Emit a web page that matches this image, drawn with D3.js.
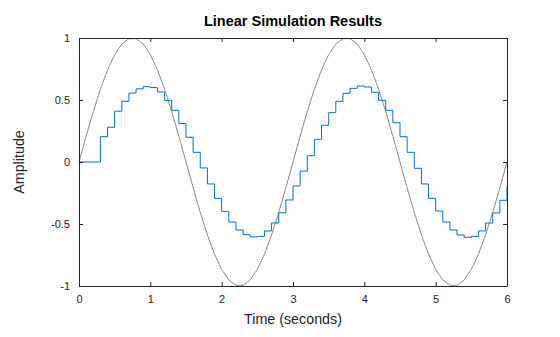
<!DOCTYPE html>
<html>
<head>
<meta charset="utf-8">
<script src="https://cdn.jsdelivr.net/npm/d3@7"></script>
<style>
  html, body { margin: 0; padding: 0; background: #ffffff; }
  svg { display: block; font-family: "Liberation Sans", Arial, Helvetica, sans-serif; }
</style>
</head>
<body>
<svg id="chart" width="560" height="337"></svg>
<script>
// ---- data ----
const timeStep = 0.1;          // sample interval (s)
const outputValues = [
  0, 0, 0, 0.204, 0.28, 0.41, 0.49, 0.556, 0.59, 0.607,
  0.60, 0.565, 0.497, 0.417, 0.31, 0.2, 0.078, -0.048, -0.177, -0.293,
  -0.398, -0.484, -0.548, -0.586, -0.605, -0.6, -0.556, -0.492, -0.409, -0.306,
  -0.194, -0.073, 0.051, 0.183, 0.296, 0.398, 0.489, 0.554, 0.594, 0.613,
  0.605, 0.562, 0.497, 0.417, 0.317, 0.204, 0.078, -0.051, -0.177, -0.293,
  -0.395, -0.484, -0.548, -0.589, -0.607, -0.6, -0.556, -0.492, -0.411, -0.309,
  -0.199
];
const inputValues = [
  0, 0.2079, 0.4067, 0.5878, 0.7431, 0.8660, 0.9511, 0.9945, 0.9945, 0.9511,
  0.8660, 0.7431, 0.5878, 0.4067, 0.2079, 0, -0.2079, -0.4067, -0.5878, -0.7431,
  -0.8660, -0.9511, -0.9945, -0.9945, -0.9511, -0.8660, -0.7431, -0.5878, -0.4067, -0.2079,
  0, 0.2079, 0.4067, 0.5878, 0.7431, 0.8660, 0.9511, 0.9945, 0.9945, 0.9511,
  0.8660, 0.7431, 0.5878, 0.4067, 0.2079, 0, -0.2079, -0.4067, -0.5878, -0.7431,
  -0.8660, -0.9511, -0.9945, -0.9945, -0.9511, -0.8660, -0.7431, -0.5878, -0.4067, -0.2079,
  0
];
const xTicks = [0, 1, 2, 3, 4, 5, 6];
const yTicks = [-1, -0.5, 0, 0.5, 1];
const yTickLabels = ["-1", "-0.5", "0", "0.5", "1"];
const titleText = "Linear Simulation Results";
const xLabelText = "Time (seconds)";
const yLabelText = "Amplitude";

// ---- layout ----
const svg = d3.select("#chart");
const plotL = 79, plotR = 507, plotT = 38, plotB = 286;
const axisColor = "#262626";

const x = d3.scaleLinear().domain([0, 6]).range([plotL, plotR]);
const y = d3.scaleLinear().domain([-1, 1]).range([plotB, plotT]);

// lines
const inputPts = inputValues.map((v, i) => [i * timeStep, v]);
const outputPts = outputValues.map((v, i) => [i * timeStep, v]);

svg.append("path")
  .datum(inputPts)
  .attr("fill", "none")
  .attr("stroke", "#8c8c8c")
  .attr("stroke-width", 1)
  .attr("d", d3.line().x(d => x(d[0])).y(d => y(d[1])));

svg.append("path")
  .datum(outputPts)
  .attr("fill", "none")
  .attr("stroke", "#0072BD")
  .attr("stroke-width", 1)
  .attr("d", d3.line().curve(d3.curveStepAfter).x(d => x(d[0])).y(d => y(d[1])));

// axes
const tickLen = 4;
const xAxisB = d3.axisBottom(x).tickValues(xTicks).tickSizeInner(-tickLen).tickSizeOuter(0).tickPadding(9).tickFormat(d3.format("d"));
const xAxisT = d3.axisTop(x).tickValues(xTicks).tickSizeInner(-tickLen).tickSizeOuter(0).tickFormat("");
const yAxisL = d3.axisLeft(y).tickValues(yTicks).tickSizeInner(-tickLen).tickSizeOuter(0).tickPadding(9)
  .tickFormat(d => yTickLabels[yTicks.indexOf(d)]);
const yAxisR = d3.axisRight(y).tickValues(yTicks).tickSizeInner(-tickLen).tickSizeOuter(0).tickFormat("");

function style(g) {
  g.select(".domain").attr("stroke", axisColor).attr("stroke-width", 1);
  g.selectAll(".tick line").attr("stroke", axisColor);
  g.selectAll(".tick text").attr("fill", axisColor).style("font-size", "11px").style("font-family", "'Liberation Sans', Arial, sans-serif");
}

svg.append("g").attr("transform", `translate(0,${plotB})`).call(xAxisB).call(style);
svg.append("g").attr("transform", `translate(0,${plotT})`).call(xAxisT).call(style);
svg.append("g").attr("transform", `translate(${plotL},0)`).call(yAxisL).call(style);
svg.append("g").attr("transform", `translate(${plotR},0)`).call(yAxisR).call(style);

// title and labels
svg.append("text")
  .attr("x", (plotL + plotR) / 2).attr("y", 26)
  .attr("text-anchor", "middle")
  .style("font-size", "14.5px").style("font-weight", "bold")
  .attr("fill", "#000")
  .text(titleText);

svg.append("text")
  .attr("x", (plotL + plotR) / 2).attr("y", 324)
  .attr("text-anchor", "middle")
  .style("font-size", "14.3px")
  .attr("fill", axisColor)
  .text(xLabelText);

svg.append("text")
  .attr("transform", `translate(24,${(plotT + plotB) / 2}) rotate(-90)`)
  .attr("text-anchor", "middle")
  .style("font-size", "14.3px")
  .attr("fill", axisColor)
  .text(yLabelText);
</script>
</body>
</html>
